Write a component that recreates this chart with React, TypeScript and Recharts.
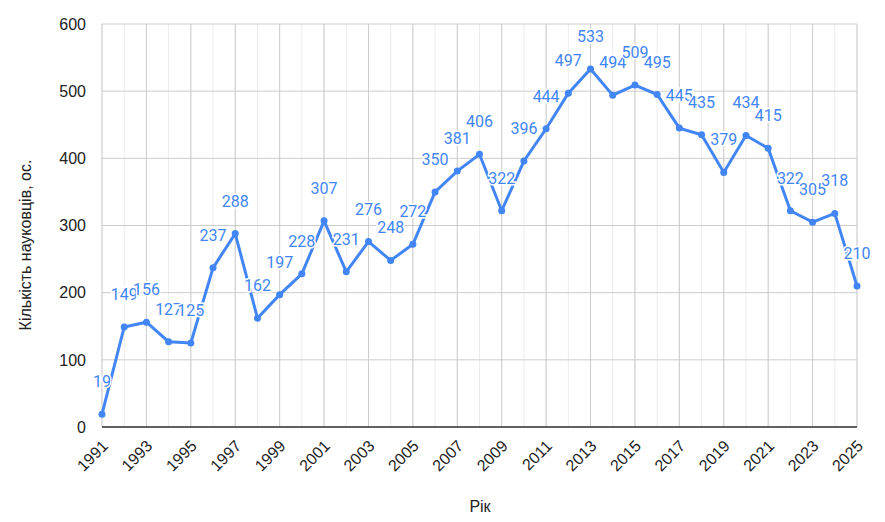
import React from 'react';
import {
  LineChart,
  Line,
  XAxis,
  YAxis,
  CartesianGrid,
  ReferenceLine,
  LabelList,
} from 'recharts';

const years = [
  1991, 1992, 1993, 1994, 1995, 1996, 1997, 1998, 1999, 2000, 2001, 2002,
  2003, 2004, 2005, 2006, 2007, 2008, 2009, 2010, 2011, 2012, 2013, 2014,
  2015, 2016, 2017, 2018, 2019, 2020, 2021, 2022, 2023, 2024, 2025,
];

const scientists = [
  19, 149, 156, 127, 125, 237, 288, 162, 197, 228, 307, 231,
  276, 248, 272, 350, 381, 406, 322, 396, 444, 497, 533, 494,
  509, 495, 445, 435, 379, 434, 415, 322, 305, 318, 210,
];

const yTicks = [0, 100, 200, 300, 400, 500, 600];
const majorYears = years.filter((y) => y % 2 === 1);

const data = years.map((year, i) => ({ year, value: scientists[i] }));

const BLUE = '#4285F4';
const LABEL_FONT = 'Roboto, Arial, sans-serif';
const AXIS_FONT = '"Liberation Sans", Arial, sans-serif';

const YearTick = (props: any) => {
  const { x, y, payload } = props;
  if (payload.value % 2 === 0) return null;
  return (
    <text
      x={x + 7}
      y={y + 12}
      transform={`rotate(-45, ${x + 7}, ${y + 12})`}
      textAnchor="end"
      fontSize={16}
      fontFamily={AXIS_FONT}
      fill="#222"
    >
      {payload.value}
    </text>
  );
};

const PointLabel = (props: any) => {
  const { x, y, value } = props;
  return (
    <text
      x={x}
      y={y - 27}
      textAnchor="middle"
      fontSize={16}
      fontFamily={LABEL_FONT}
      fill={BLUE}
      stroke="#fff"
      strokeWidth={3}
      paintOrder="stroke"
    >
      {value}
    </text>
  );
};

const YTitle = () => (
  <text
    x={25}
    y={245}
    transform="rotate(-90, 25, 245)"
    textAnchor="middle"
    dominantBaseline="central"
    fontSize={16}
    fontFamily={AXIS_FONT}
    fill="#222"
  >
    Кількість науковців, ос.
  </text>
);

const XTitle = () => (
  <text
    x={480}
    y={506}
    textAnchor="middle"
    dominantBaseline="central"
    fontSize={16}
    fontFamily={AXIS_FONT}
    fill="#222"
  >
    Рік
  </text>
);

export default function App() {
  return (
    <div style={{ position: 'absolute', left: 0, top: 0, width: 885, height: 522, background: '#fff' }}>
      <LineChart
        width={885}
        height={522}
        data={data}
        margin={{ top: 24, right: 28, bottom: 0, left: 0 }}
      >
        <CartesianGrid stroke="#ececec" horizontal={false} />
        <CartesianGrid stroke="#cccccc" vertical={false} />
        {majorYears.map((y) => (
          <ReferenceLine key={y} x={y} stroke="#cccccc" />
        ))}
        <XAxis
          dataKey="year"
          type="number"
          domain={[1991, 2025]}
          ticks={years}
          interval={0}
          tick={<YearTick />}
          tickLine={false}
          axisLine={{ stroke: '#333', strokeWidth: 1.5 }}
          height={95}
          label={<XTitle />}
        />
        <YAxis
          domain={[0, 600]}
          ticks={yTicks}
          width={102}
          tickLine={false}
          axisLine={false}
          tickMargin={10}
          tick={{ fontSize: 16, fontFamily: AXIS_FONT, fill: '#222' }}
          label={<YTitle />}
        />
        <Line
          type="linear"
          dataKey="value"
          stroke={BLUE}
          strokeWidth={3}
          dot={{ r: 3.5, fill: BLUE, stroke: BLUE, strokeWidth: 0 }}
          activeDot={false}
          isAnimationActive={false}
        >
          <LabelList dataKey="value" content={<PointLabel />} />
        </Line>
      </LineChart>
    </div>
  );
}
